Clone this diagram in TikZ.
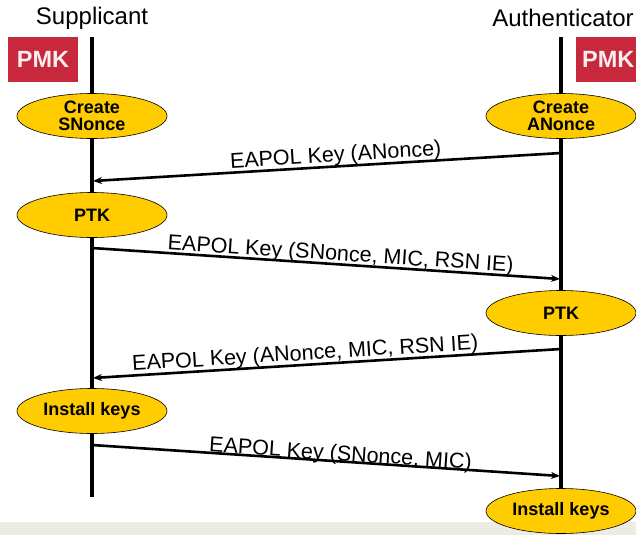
\documentclass[tikz,border=0pt]{standalone}
\usepackage{fontspec}
\setmainfont{Liberation Sans}
\usetikzlibrary{shapes.geometric,arrows.meta}
\definecolor{pmkred}{HTML}{C8283C}
\definecolor{evyellow}{HTML}{FFCC00}
\definecolor{bandgray}{HTML}{EEEBE3}
\begin{document}
\begin{tikzpicture}[x=1pt,y=-1pt,
  party/.style={font=\fontsize{24}{26}\selectfont, inner sep=0pt},
  pmkbox/.style={fill=pmkred, text=white!92!pmkred, font=\bfseries\fontsize{23.5}{25}\selectfont, minimum width=70pt, minimum height=45pt, inner sep=0pt},
  event/.style={ellipse, draw=black, line width=0.6pt, fill=evyellow, minimum width=150pt, minimum height=45pt, inner sep=0pt, align=center, font=\bfseries\fontsize{18}{20}\selectfont},
  lifeline/.style={line width=3.2pt},
  msg/.style={line width=2.6pt, -{Stealth[length=9pt,width=7pt]}},
  msglabel/.style={sloped, font=\fontsize{21.5}{23}\selectfont, inner sep=0pt}
]
\useasboundingbox (0,0) rectangle (636,535);
\clip (0,0) rectangle (636,535);
\fill[bandgray] (0,522) rectangle (636,535);

\node[party] (sup) at (92,18) {Supplicant};
\node[party] (auth) at (563,18) {Authenticator};

\coordinate (sTop) at (92,37);
\coordinate (sBot) at (92,497);
\coordinate (aTop) at (561,37);
\coordinate (aBot) at (561,500);
\draw[lifeline] (sTop) -- (sBot);
\draw[lifeline] (aTop) -- (aBot);

\node[pmkbox] (pmkS) at (43,59.5) {PMK};
\node[pmkbox, anchor=west] (pmkA) at (576,59.5) {\hspace*{-6pt}PMK};

\node[event] (cs) at (92,116) {Create\\[-3pt]SNonce};
\node[event] (ca) at (561,116) {Create\\[-3pt]ANonce};
\node[event] (ptkS) at (92,215) {PTK};
\node[event] (ptkA) at (561,313) {PTK};
\node[event] (instS) at (92,411) {Install keys};
\node[event] (instA) at (561,511) {Install keys};

\coordinate (m1a) at (561,153);
\coordinate (m1b) at (93,181);
\coordinate (m2a) at (92,248);
\coordinate (m2b) at (560,279);
\coordinate (m3a) at (561,349);
\coordinate (m3b) at (93,378);
\coordinate (m4a) at (92,445);
\coordinate (m4b) at (560,476);

\draw[msg] (m1a) -- node[msglabel, above, pos=0.48, yshift=-1pt] {EAPOL Key (ANonce)} (m1b);
\draw[msg] (m2a) -- node[msglabel, above, pos=0.53, yshift=-2pt] {EAPOL Key (SNonce, MIC, RSN IE)} (m2b);
\draw[msg] (m3a) -- node[msglabel, above, pos=0.545, yshift=-1pt] {EAPOL Key (ANonce, MIC, RSN IE)} (m3b);
\draw[msg] (m4a) -- node[msglabel, above, pos=0.53, yshift=-5pt] {EAPOL Key (SNonce, MIC)} (m4b);
\end{tikzpicture}
\end{document}
